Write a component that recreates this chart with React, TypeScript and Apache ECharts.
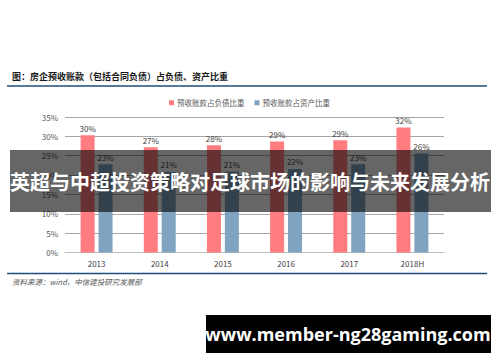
import React, { useEffect, useRef } from "react";
import * as echarts from "echarts";

const categories = ["2013", "2014", "2015", "2016", "2017", "2018H"];
const liabilityShare = [30.3, 27.2, 27.7, 28.7, 29.0, 32.3];
const assetShare = [22.8, 20.8, 20.9, 21.6, 22.8, 25.6];
const seriesNames = ["预收账款占负债比重", "预收账款占资产比重"];
const titleText = "图：房企预收账款（包括合同负债）占负债、资产比重";
const sourceText = "资料来源：wind，中信建投研究发展部";
const bannerText = "英超与中超投资策略对足球市场的影响与未来发展分析";
const urlText = "www.member-ng28gaming.com";

const CJK = '"Noto Sans CJK SC", "Noto Sans", sans-serif';

export default function App() {
  const ref = useRef<HTMLDivElement>(null);
  useEffect(() => {
    document.body.style.margin = "0";
    if (!ref.current) return;
    const chart = echarts.init(ref.current, undefined, { renderer: "svg" });
    const labelFmt = (p: any) => Math.round(p.value) + "%";
    chart.setOption({
      animation: false,
      backgroundColor: "#ffffff",
      textStyle: { fontFamily: CJK },
      legend: {
        data: seriesNames,
        left: 164,
        top: 94,
        itemWidth: 5,
        itemHeight: 5,
        itemGap: 10,
        icon: "rect",
        textStyle: { fontSize: 7.5, color: "#595959", fontFamily: CJK, padding: [0, 0, 0, -2] },
      },
      grid: { left: 65, right: 56, top: 117, bottom: 109.5 },
      xAxis: {
        type: "category",
        data: categories,
        axisLine: { lineStyle: { color: "#BFBFBF" } },
        axisTick: { show: false },
        axisLabel: { fontSize: 8, color: "#404040", margin: 7 },
      },
      yAxis: {
        type: "value",
        min: 0,
        max: 35,
        interval: 5,
        axisLine: { show: false },
        axisTick: { show: false },
        axisLabel: { fontSize: 8, color: "#595959", formatter: "{value}%", margin: 7 },
        splitLine: { lineStyle: { color: "#A6A6A6", width: 1 } },
      },
      series: [
        {
          name: seriesNames[0],
          type: "bar",
          data: liabilityShare,
          barWidth: 14,
          barGap: "28%",
          itemStyle: { color: "#FF7C80" },
          label: { show: true, position: "top", distance: 3, fontSize: 8, color: "#404040", formatter: labelFmt },
        },
        {
          name: seriesNames[1],
          type: "bar",
          data: assetShare,
          barWidth: 14,
          itemStyle: { color: "#7FA3C0" },
          label: { show: true, position: "top", distance: 3, fontSize: 8, color: "#404040", formatter: labelFmt },
        },
      ],
      graphic: [
        {
          type: "text",
          left: 12,
          top: 72,
          style: { text: titleText, fontSize: 9, fontWeight: "bold", fill: "#1a1a1a", fontFamily: CJK },
        },
        {
          type: "line",
          shape: { x1: 7, y1: 86, x2: 487, y2: 86 },
          style: { stroke: "#1F4E79", lineWidth: 1.5 },
        },
        {
          type: "line",
          shape: { x1: 7, y1: 273.5, x2: 487, y2: 273.5 },
          style: { stroke: "#1F4E79", lineWidth: 1.5 },
        },
        {
          type: "text",
          left: 12,
          top: 278,
          style: { text: sourceText, fontSize: 7.5, fontStyle: "italic", fill: "#595959", fontFamily: CJK },
        },
        {
          type: "rect",
          z: 100,
          shape: { x: 10, y: 150, width: 481, height: 62 },
          style: { fill: "rgba(0,0,0,0.6)" },
        },
        {
          type: "text",
          z: 101,
          x: 250,
          y: 181,
          style: {
            text: bannerText,
            fontSize: 20,
            fontWeight: "bold",
            fill: "#ffffff",
            align: "center",
            verticalAlign: "middle",
            fontFamily: CJK,
          },
        },
        {
          type: "rect",
          z: 100,
          shape: { x: 206, y: 315, width: 285, height: 38 },
          style: { fill: "#000000" },
        },
        {
          type: "text",
          z: 101,
          x: 348,
          y: 334,
          style: {
            text: urlText,
            fontSize: 18,
            fontWeight: "bold",
            fill: "#ffffff",
            align: "center",
            verticalAlign: "middle",
            fontFamily: '"Open Sans", "Noto Sans", sans-serif',
          },
        },
      ],
    });
    return () => chart.dispose();
  }, []);
  return <div ref={ref} style={{ width: 500, height: 362 }} />;
}
